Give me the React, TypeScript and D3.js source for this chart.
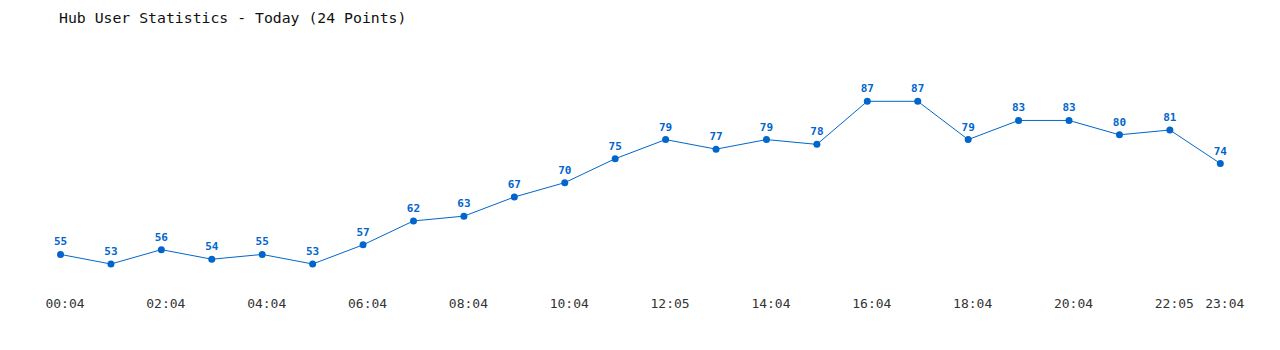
import React from "react";
import * as d3 from "d3";

const title = "Hub User Statistics - Today (24 Points)";
const times = ["00:04","01:04","02:04","03:04","04:04","05:04","06:04","07:04","08:04","09:04","10:04","11:04","12:05","13:04","14:04","15:04","16:04","17:04","18:04","19:04","20:04","21:04","22:05","23:04"];
const users = [55,53,56,54,55,53,57,62,63,67,70,75,79,77,79,78,87,87,79,83,83,80,81,74];
const tickLabels = ["00:04","02:04","04:04","06:04","08:04","10:04","12:05","14:04","16:04","18:04","20:04","22:05","23:04"];

const W = 1280, H = 350;
const BLUE = "#0066cc";
const MONO = "'DejaVu Sans Mono', 'Liberation Mono', monospace";

export default function App() {
  const x = d3.scalePoint<string>().domain(times).range([60.5, 1220.3]);
  const y = d3.scaleLinear().domain([53, 87]).range([264, 101.3]);
  const line = d3.line<number>().x((_, i) => x(times[i])!).y(d => y(d));

  return (
    <svg width={W} height={H} style={{ position: "absolute", left: 0, top: 0, background: "#fff" }}>
      <text x={59} y={23} fontFamily={MONO} fontSize={14.8} fill="#111">{title}</text>
      <path d={line(users) || ""} fill="none" stroke={BLUE} strokeWidth={1} />
      {users.map((v, i) => (
        <g key={i}>
          <circle cx={x(times[i])} cy={y(v)} r={3.5} fill={BLUE} />
          <text x={x(times[i])} y={y(v) - 9} textAnchor="middle" fontFamily={MONO} fontSize={11} fontWeight="bold" fill={BLUE}>{v}</text>
        </g>
      ))}
      {tickLabels.map((t) => (
        <text key={t} x={x(t)! + 4.5} y={308} textAnchor="middle" fontFamily={MONO} fontSize={13} fill="#333">{t}</text>
      ))}
    </svg>
  );
}
